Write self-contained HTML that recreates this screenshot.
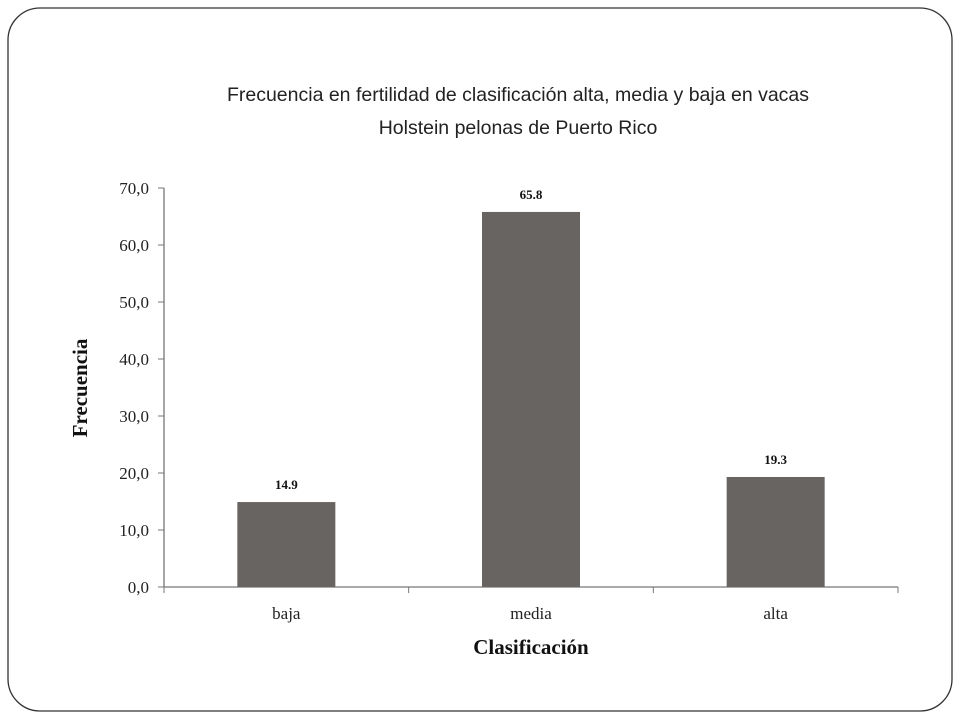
<!DOCTYPE html>
<html><head><meta charset="utf-8"><style>
body{margin:0;background:#fff;width:960px;height:720px;overflow:hidden}
svg{display:block}
</style></head><body>
<svg width="960" height="720">
<rect x="8" y="8" width="944" height="703" rx="32" fill="#fff" stroke="#333" stroke-width="1.3"/>
<text x="518" y="101" text-anchor="middle" font-family="Liberation Sans, sans-serif" font-size="19.5" fill="#222">Frecuencia en fertilidad de  clasificación alta, media y baja en vacas</text>
<text x="518" y="134" text-anchor="middle" font-family="Liberation Sans, sans-serif" font-size="19.5" fill="#222">Holstein pelonas de Puerto Rico</text>
<text transform="translate(87,388) rotate(-90)" text-anchor="middle" font-family="Liberation Serif, serif" font-weight="bold" font-size="21" fill="#111">Frecuencia</text>
<text x="531" y="654" text-anchor="middle" font-family="Liberation Serif, serif" font-weight="bold" font-size="21" fill="#111">Clasificación</text>
<g id="plot"></g>
</svg>
<script>
const categories=["baja","media","alta"];
const values=[14.9,65.8,19.3];
const valueLabels=["14.9","65.8","19.3"];
const yTicks=[0,10,20,30,40,50,60,70];
const yTickLabels=["0,0","10,0","20,0","30,0","40,0","50,0","60,0","70,0"];
const X0=164,X1=898,Y0=587,Y1=188,YMAX=70;
const NS="http://www.w3.org/2000/svg";
const g=document.getElementById("plot");
function y(v){return Y0-(v/YMAX)*(Y0-Y1);}
const band=(X1-X0)/categories.length;
function xc(i){return X0+band*(i+0.5);}
function mk(t,a,txt){const e=document.createElementNS(NS,t);for(const k in a)e.setAttribute(k,a[k]);if(txt!=null)e.textContent=txt;g.appendChild(e);return e;}
let ax=mk("line",{x1:X0,y1:Y1,x2:X0,y2:Y0,stroke:"#777","stroke-width":1.3});


yTicks.forEach((t,i)=>{
 let l=mk("line",{x1:X0-6,y1:y(t),x2:X0,y2:y(t),stroke:"#777","stroke-width":1});
 
 
 let tx=mk("text",{x:X0-15,y:y(t)+6,"text-anchor":"end","font-family":"Liberation Serif, serif","font-size":17,fill:"#222"},yTickLabels[i]);
 
 
});
let bx=mk("line",{x1:X0,y1:Y0,x2:X1,y2:Y0,stroke:"#777","stroke-width":1.3});


for(let i=0;i<=categories.length;i++){
 let l=mk("line",{x1:X0+band*i,y1:Y0,x2:X0+band*i,y2:Y0+6,stroke:"#777","stroke-width":1});
 
 
}
const bw=98;
categories.forEach((c,i)=>{
 let r=mk("rect",{x:xc(i)-bw/2,y:y(values[i]),width:bw,height:Y0-y(values[i]),fill:"#686462"});
 
 
 let v=mk("text",{x:xc(i),y:y(values[i])-13,"text-anchor":"middle","font-family":"Liberation Serif, serif","font-weight":"bold","font-size":13,fill:"#111"},valueLabels[i]);
 
 
 let t=mk("text",{x:xc(i),y:Y0+32,"text-anchor":"middle","font-family":"Liberation Serif, serif","font-size":17,fill:"#222"},c);
 
 
});
</script>
</body></html>
